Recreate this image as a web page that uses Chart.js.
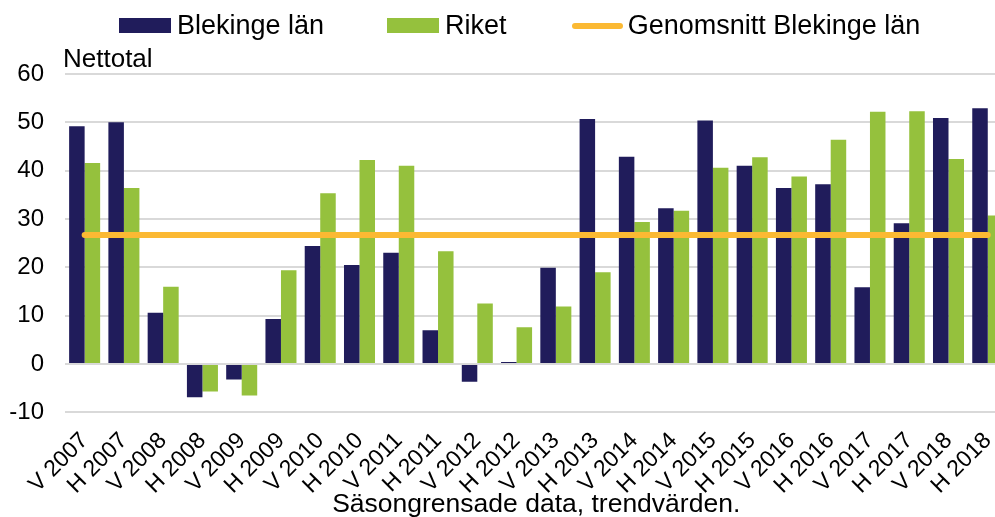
<!DOCTYPE html>
<html>
<head>
<meta charset="utf-8">
<script src="https://cdn.jsdelivr.net/npm/chart.js@4/dist/chart.umd.min.js"></script>
<style>
  html, body { margin: 0; padding: 0; background: #fff; overflow: hidden; width: 995px; height: 517px; }
  body { position: relative; font-family: "Liberation Sans", Arial, sans-serif; color: #000; }
  #wrap { position: absolute; left: 0; top: 0; width: 1010px; height: 530px; }
  #legend { position: absolute; left: 119px; top: 12px; display: flex; align-items: center; font-size: 27px; line-height: 27px; white-space: nowrap; }
  #legend .item { display: flex; align-items: center; margin-right: 63px; }
  #legend .box { width: 52px; height: 15px; margin-right: 6px; }
  #legend .line { width: 51px; height: 6px; border-radius: 3px; margin: 0 5px 0 2px; }
  #unit { position: absolute; left: 63px; top: 45px; font-size: 26px; line-height: 26px; white-space: nowrap; }
</style>
</head>
<body>
<div id="wrap"><canvas id="wykres" width="1010" height="530"></canvas></div>
<div id="legend"></div>
<div id="unit">Nettotal</div>
<script>
var perioder = ['V 2007', 'H 2007', 'V 2008', 'H 2008', 'V 2009', 'H 2009', 'V 2010', 'H 2010',
    'V 2011', 'H 2011', 'V 2012', 'H 2012', 'V 2013', 'H 2013', 'V 2014', 'H 2014',
    'V 2015', 'H 2015', 'V 2016', 'H 2016', 'V 2017', 'H 2017', 'V 2018', 'H 2018'];

var blekinge = [49.2, 50.0, 10.6, -6.9, -3.2, 9.3, 24.4, 20.5, 23.0, 7.0, -3.7, 0.4,
    19.9, 50.7, 42.9, 32.2, 50.4, 41.0, 36.4, 37.2, 15.9, 29.1, 50.9, 52.9];

var riket = [41.6, 36.4, 16.0, -5.7, -6.5, 19.4, 35.3, 42.2, 41.0, 23.3, 12.5, 7.6,
    11.9, 19.0, 29.4, 31.7, 40.6, 42.8, 38.8, 46.4, 52.2, 52.3, 42.4, 30.7];

var genomsnitt = [26.7, 26.7, 26.7, 26.7, 26.7, 26.7, 26.7, 26.7, 26.7, 26.7, 26.7, 26.7,
    26.7, 26.7, 26.7, 26.7, 26.7, 26.7, 26.7, 26.7, 26.7, 26.7, 26.7, 26.7];

var yTicks = [-10, 0, 10, 20, 30, 40, 50, 60];

var FONT = '"Liberation Sans", Arial, sans-serif';
var BLA = '#201c5b';
var GRON = '#95c13d';
var ORANGE = '#fbb933';

var ctx = document.getElementById('wykres').getContext('2d');

var myChart = new Chart(ctx, {
    data: {
        labels: perioder,
        datasets: [{
            type: 'line',
            label: 'Genomsnitt Blekinge län',
            data: genomsnitt,
            borderColor: ORANGE,
            borderWidth: 6,
            borderCapStyle: 'round',
            pointRadius: 0,
            order: 0
        }, {
            type: 'bar',
            label: 'Blekinge län',
            data: blekinge,
            backgroundColor: BLA,
            order: 1
        }, {
            type: 'bar',
            label: 'Riket',
            data: riket,
            backgroundColor: GRON,
            order: 2
        }]
    },
    options: {
        responsive: false,
        animation: false,
        layout: {
            padding: { top: 74, right: 2.6, left: 0, bottom: 0 }
        },
        datasets: {
            bar: { categoryPercentage: 0.79, barPercentage: 1.0 }
        },
        plugins: {
            legend: { display: false },
            tooltip: { enabled: false }
        },
        scales: {
            x: {
                grid: { display: false },
                border: { display: false },
                ticks: {
                    autoSkip: false,
                    maxRotation: 45,
                    minRotation: 45,
                    labelOffset: 0,
                    padding: 7,
                    color: '#000',
                    font: { family: FONT, size: 23 }
                },
                title: {
                    display: true,
                    text: 'Säsongrensade data, trendvärden.',
                    color: '#000',
                    font: { family: FONT, size: 26.5 },
                    padding: { top: 0, bottom: 9 }
                },
                afterFit: function(scale) {
                    scale.height = 117.7;
                    scale.paddingLeft = 0;
                    scale.paddingRight = 0;
                }
            },
            y: {
                min: -10,
                max: 60,
                afterBuildTicks: function(scale) {
                    scale.ticks = yTicks.map(function(v) { return { value: v }; });
                },
                grid: { color: '#d9d9d9', lineWidth: 2, drawTicks: false },
                border: { display: false },
                ticks: {
                    padding: 21,
                    color: '#000',
                    font: { family: FONT, size: 24 }
                },
                afterFit: function(scale) { scale.width = 65; }
            }
        }
    }
});

// legenda w HTML, z tych samych datasetow
var legend = document.getElementById('legend');
[1, 2, 0].forEach(function(i) {
    var ds = myChart.data.datasets[i];
    var item = document.createElement('div');
    item.className = 'item';
    var mark = document.createElement('div');
    if (ds.type === 'line') {
        mark.className = 'line';
        mark.style.background = ds.borderColor;
    } else {
        mark.className = 'box';
        mark.style.background = ds.backgroundColor;
    }
    var txt = document.createElement('span');
    txt.textContent = ds.label;
    item.appendChild(mark);
    item.appendChild(txt);
    legend.appendChild(item);
});
</script>
</body>
</html>
